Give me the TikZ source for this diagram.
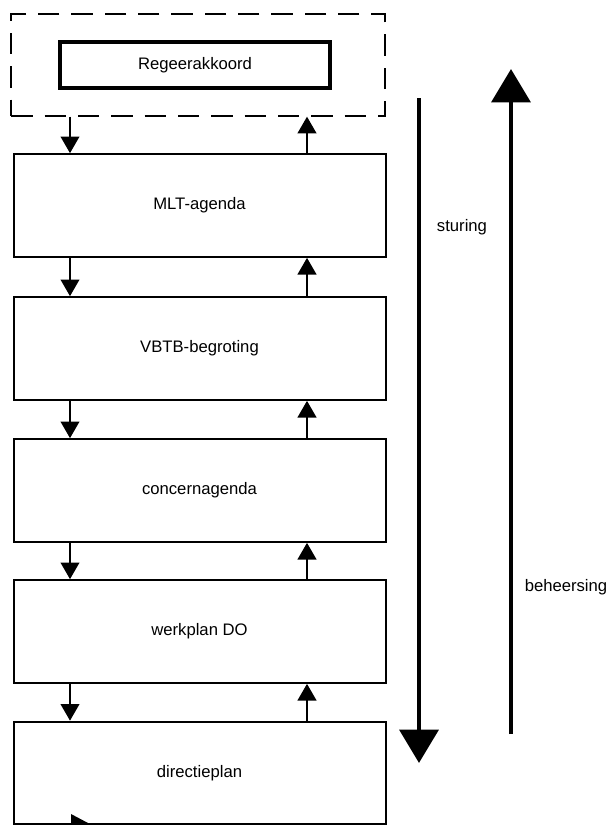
\documentclass[tikz,border=0pt]{standalone}
\usepackage{fontspec}
\setmainfont{Liberation Sans}
\usetikzlibrary{arrows.meta}

\begin{document}
\begin{tikzpicture}[x=0.75pt,y=-0.75pt,
  font=\fontsize{12.5}{15}\selectfont,
  plan/.style={draw, line width=1.5pt, minimum width=279pt, minimum height=77pt, inner sep=0pt},
  flow/.style={-{Triangle[width=14pt,length=12.5pt]}, line width=1.5pt},
  bigflow/.style={-{Triangle[width=29pt,length=25pt]}, line width=3.5pt}]
\useasboundingbox (0,0) rectangle (609,826);
% kader met regeerakkoord
\node[draw, dashed, dash pattern=on 16pt off 9pt, line width=1.5pt, minimum width=280pt, minimum height=76pt] (kader) at (198,65) {};
\node[draw, line width=3pt, minimum width=202pt, minimum height=34pt] (regeer) at (195,65) {Regeerakkoord};
% planningsdocumenten
\node[plan] (mlt) at (199.5,205.5) {MLT-agenda};
\node[plan] (vbtb) at (199.5,348.5) {VBTB-begroting};
\node[plan] (concern) at (199.5,490.5) {concernagenda};
\node[plan] (werkplan) at (199.5,631.5) {werkplan DO};
\node[plan] (directie) at (199.5,773) {directieplan};
\coordinate (dn) at (70,0);
\coordinate (up) at (307,0);
% pijlen tussen de documenten
\draw[flow] (kader.south -| dn) -- (mlt.north -| dn);
\draw[flow] (mlt.north -| up) -- (kader.south -| up);
\foreach \a/\b in {mlt/vbtb, vbtb/concern, concern/werkplan, werkplan/directie} {
  \draw[flow] (\a.south -| dn) -- (\b.north -| dn);
  \draw[flow] (\b.north -| up) -- (\a.south -| up);
}
\fill (71,814) -- (71,823) -- (88,823) -- cycle;
% sturing en beheersing
\coordinate (st1) at (419,98);
\coordinate (st2) at (419,763);
\coordinate (bh1) at (511,734);
\coordinate (bh2) at (511,69);
\draw[bigflow] (st1) -- (st2);
\draw[bigflow] (bh1) -- (bh2);
\node (sturing) at (462,227) {sturing};
\node (beheersing) at (566,587) {beheersing};
\end{tikzpicture}
\end{document}
